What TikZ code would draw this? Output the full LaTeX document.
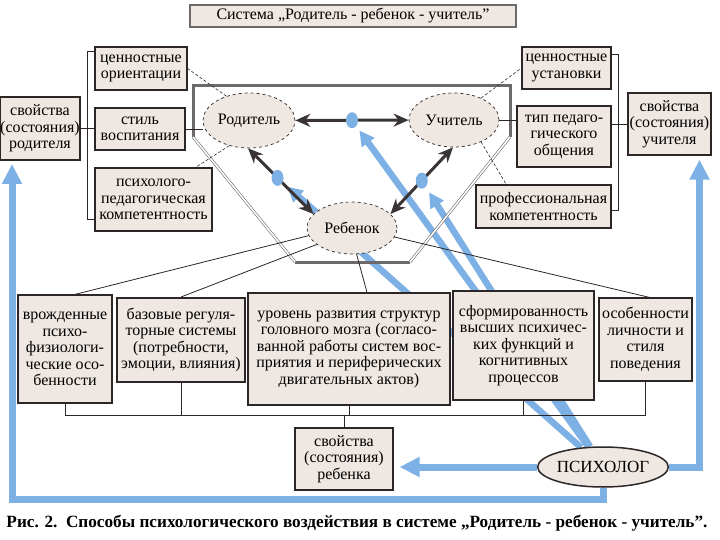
\documentclass[tikz,border=0pt]{standalone}
\usepackage{fontspec}
\setmainfont{Liberation Serif}
\usetikzlibrary{arrows.meta,positioning,shapes.geometric,backgrounds,calc}

\definecolor{boxfill}{RGB}{239,231,225}
\definecolor{boxline}{RGB}{45,38,38}
\definecolor{psyblue}{RGB}{125,176,228}
\definecolor{linkgray}{RGB}{58,52,52}
\definecolor{framegray}{RGB}{110,105,105}

\tikzset{
  every node/.style={font=\fontsize{16}{16.5}\selectfont},
  infobox/.style={draw=boxline,line width=1.2pt,fill=boxfill,align=center,inner sep=0pt},
  heavybox/.style={infobox,line width=2pt},
  person/.style={ellipse,draw=boxline,dashed,line width=0.7pt,fill=boxfill,inner sep=0pt},
  infl/.style={ellipse,fill=psyblue,minimum width=12pt,minimum height=16pt,inner sep=0pt},
  link/.style={draw=linkgray,line width=3pt,{Stealth[length=15pt,width=13pt]}-{Stealth[length=15pt,width=13pt]}},
  psyarrow/.style={draw=psyblue,line width=6.5pt,-{Triangle[length=15pt,width=15pt]}},
  psyroute/.style={draw=psyblue,line width=7pt,-{Triangle[length=20pt,width=19pt]}},
  wire/.style={draw=boxline,line width=0.8pt},
  hint/.style={draw=boxline,line width=0.6pt,dash pattern=on 3pt off 2pt},
}

\begin{document}
\begin{tikzpicture}[x=1pt,y=-1pt]
  \useasboundingbox (0,0) rectangle (720,540);

  % title
  \node[draw=framegray,line width=2.5pt,fill=boxfill,minimum width=326pt,minimum height=22pt,inner sep=0pt] (title) at (353,16) {Система „Родитель - ребенок - учитель”};

  % parent side
  \node[heavybox,minimum width=80pt,minimum height=63pt] (svR) at (40,128.5) {свойства\\(состояния)\\родителя};
  \node[infobox,minimum width=92pt,minimum height=43pt] (cenO) at (141,68.5) {ценностные\\ориентации};
  \node[infobox,minimum width=90pt,minimum height=42pt] (stil) at (140,129) {стиль\\воспитания};
  \node[infobox,minimum width=117pt,minimum height=63pt] (psy) at (153.5,199.5) {психолого-\\педагогическая\\компетентность};

  % the three persons
  \node[person,minimum width=92pt,minimum height=55pt] (rod) at (249,120.5) {Родитель};
  \node[person,minimum width=90pt,minimum height=54pt] (uch) at (454,120) {Учитель};
  \node[person,minimum width=90pt,minimum height=52pt] (reb) at (352,228) {Ребенок};

  % teacher side
  \node[infobox,minimum width=89pt,minimum height=42pt] (cenU) at (566.5,68) {ценностные\\установки};
  \node[heavybox,minimum width=94pt,minimum height=61pt] (tip) at (564,136.5) {тип педаго-\\гического\\общения};
  \node[heavybox,minimum width=135pt,minimum height=43pt] (prof) at (543.5,206.5) {профессиональная\\компетентность};
  \node[infobox,minimum width=83pt,minimum height=62pt] (svU) at (669.5,124) {свойства\\(состояния)\\учителя};

  % child side
  \node[infobox,minimum width=94pt,minimum height=108pt] (vrozh) at (65,349) {врожденные\\психо-\\физиологи-\\ческие осо-\\бенности};
  \node[heavybox,minimum width=128pt,minimum height=84pt] (baz) at (181,340) {базовые регуля-\\торные системы\\(потребности,\\эмоции, влияния)};
  \node[infobox,minimum width=202pt,minimum height=112pt] (urov) at (349,349) {уровень развития структур\\головного мозга (согласо-\\ванной работы систем вос-\\приятия и периферических\\двигательных актов)};
  \node[heavybox,minimum width=141pt,minimum height=109pt] (sform) at (523.5,345.5) {сформированность\\высших психичес-\\ких функций и\\когнитивных\\процессов};
  \node[infobox,minimum width=93pt,minimum height=83pt] (osob) at (645.5,339.5) {особенности\\личности и\\стиля\\поведения};
  \node[infobox,minimum width=98pt,minimum height=62pt] (svReb) at (344,459) {свойства\\(состояния)\\ребенка};

  \node[ellipse,draw=boxline,line width=1.5pt,fill=boxfill,minimum width=115pt,minimum height=40pt,inner sep=0pt,font=\fontsize{17}{18}\selectfont] (psih) at (603,467) {ПСИХОЛОГ};

  \node (caption) at (357,523) {\fontsize{17.2}{18}\selectfont\bfseries Рис. 2.\ \ Способы психологического воздействия в системе „Родитель - ребенок - учитель”.};

  % links between persons
  \draw[link] (rod) -- node[infl] (dRU) {} (uch);
  \draw[link] (rod.-92) -- node[infl,pos=.45] (dRR) {} (reb.160);
  \draw[link] (uch.-92) -- node[infl] (dUR) {} (reb.20);

  \begin{scope}[on background layer]
    \draw[psyarrow,shorten >=4pt] (psih) -- (dRU);
    \draw[psyarrow,shorten >=5pt] (psih) -- (dRR);
    \draw[psyarrow,shorten >=5pt] (psih) -- (dUR);
    \draw[psyroute,shorten >=6pt] (psih.west) -- (psih.west -| svReb.east);
    \draw[psyroute,shorten >=3pt] (psih.south) -- ++(0,12) -| ([xshift=-28pt]svR.south);
    \draw[psyroute,shorten >=4pt] (psih.east) -| ([xshift=30pt]svU.south);
    % funnel frame
    \draw[framegray,line width=3pt] (193,137) -- (193,86) -- (510,86) -- (510,137);
    \draw[framegray,line width=3pt] (295,262) -- (410,262);
    \draw[draw=framegray,double=white,line width=0.6pt,double distance=1.6pt] (193,137) -- (295,262) (510,137) -- (410,262);
  \end{scope}

  % brackets and wires
  \draw[wire] ([yshift=-5pt]cenO.north west) -- ++(-7,0) |- ([yshift=12pt]psy.south west);
  \draw[wire] (svR.east) -- (svR.east -| stil.west);
  \draw[wire] (stil.east) -- (stil.east -| rod.west);
  \draw[wire] ([yshift=-8pt]cenU.north east) -- ++(7,0) |- ([yshift=19pt]prof.south east);
  \draw[wire] (svU.west) -- (svU.west -| tip.east);
  \draw[wire] (uch.east) -- (uch.east -| tip.west);

  \draw[hint] (rod.133) -- (cenO.east);
  \draw[hint] (rod.-128) -- ([xshift=-17pt]psy.north east);
  \draw[hint] (uch.39) -- (cenU.west);
  \draw[hint] (uch.-39) -- ([xshift=31pt]prof.north west);

  % child to its features
  \draw[wire] (reb.190) -- ([xshift=10pt]vrozh.north);
  \draw[wire] (reb.205) -- (baz.north);
  \draw[wire] (reb.-80) -- ([xshift=18pt]urov.north);
  \draw[wire] (reb.-12) -- ([xshift=4pt]osob.north);

  \coordinate (bus) at (0,415);
  \draw[wire] (vrozh.south) |- (osob.south |- bus) -- (osob.south);
  \foreach \n in {baz,urov,sform}
    \draw[wire] (\n.south) -- (\n.south |- bus);
  \draw[wire] (svReb.north) -- (svReb.north |- bus);
\end{tikzpicture}
\end{document}
